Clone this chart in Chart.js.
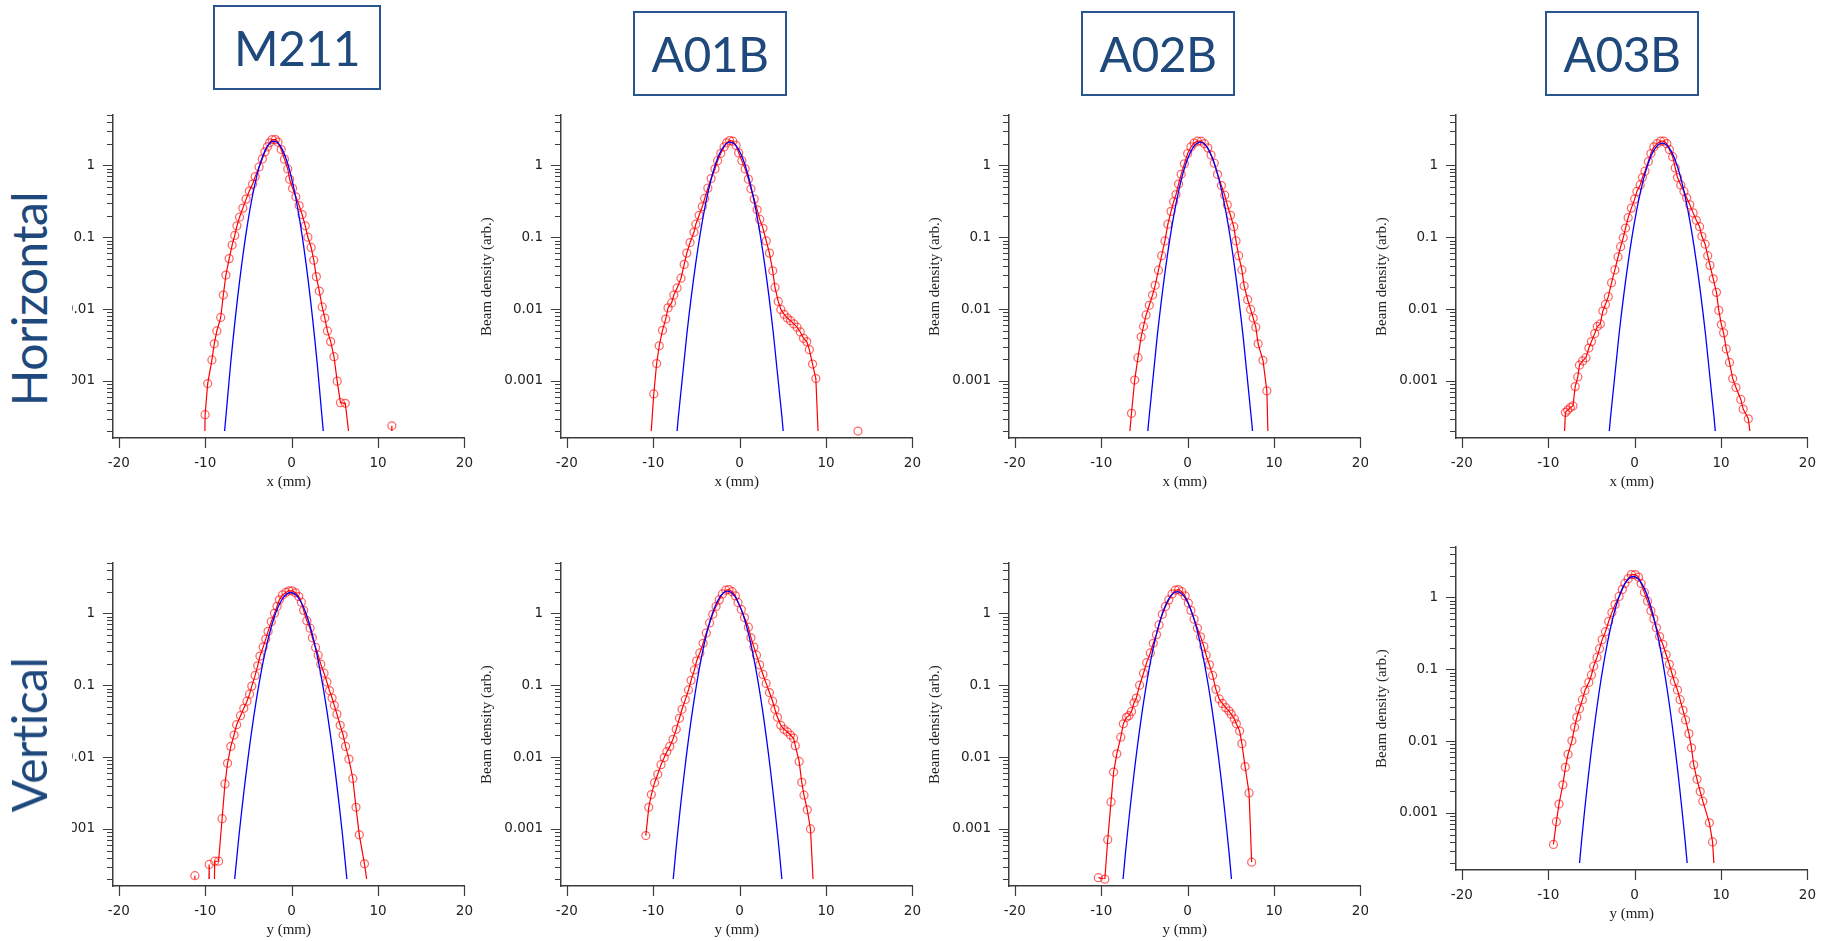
<!DOCTYPE html>
<html>
<head>
<meta charset="utf-8">
<script src="https://cdn.jsdelivr.net/npm/chart.js@4.4.1/dist/chart.umd.min.js"></script>
<style>
html,body{margin:0;padding:0;background:#fff;width:1835px;height:941px;overflow:hidden;}
#stage{position:relative;width:1835px;height:941px;background:#fff;}
#stage canvas{position:absolute;}
.hdr{position:absolute;box-sizing:border-box;border:2px solid #2b5590;display:flex;align-items:center;justify-content:center;font-family:Lato,"Noto Sans",sans-serif;font-size:48px;color:#1f497d;letter-spacing:-0.5px;z-index:5;line-height:1;}
.rowmask{position:absolute;left:0;width:72px;background:#fff;z-index:4;}
.rowlbl{position:absolute;font-family:Lato,"Noto Sans",sans-serif;font-size:48px;color:#1f497d;white-space:nowrap;line-height:1;letter-spacing:-0.5px;transform:translate(-50%,-50%) rotate(-90deg);z-index:5;}
</style>
</head>
<body>
<div id="stage"></div>
<script>
// ---------------- categories / labels ----------------
const columns = ['M211', 'A01B', 'A02B', 'A03B'];
const rows = ['Horizontal', 'Vertical'];
const xTitles = ['x (mm)', 'y (mm)'];
const yTitle = 'Beam density (arb.)';
const xTicks = [-20, -10, 0, 10, 20];
const yMajor = [1, 0.1, 0.01, 0.001];
const yMajorLabels = ['1', '0.1', '0.01', '0.001'];
const xRange = [-20.68, 20];
const yRange = [1.61e-4, 5];
const yFloor = 2e-4;

// ---------------- measured profiles [position (mm), density] ----------------
// values far below the axis (1e-7 etc.) are readings that fall off the plotted range
const hM211Data = [[-10.35,1e-7],[-10.02,3.4e-4],[-9.72,9.2e-4],[-9.23,1.96e-3],[-8.96,3.29e-3],[-8.66,4.96e-3],[-8.21,7.65e-3],[-7.91,0.0157],[-7.61,0.0298],[-7.23,0.0504],[-6.89,0.0777],[-6.59,0.106],[-6.33,0.144],[-6.03,0.190],[-5.65,0.254],[-5.27,0.339],[-4.90,0.439],[-4.52,0.550],[-4.22,0.697],[-3.77,0.95],[-3.39,1.23],[-3.09,1.54],[-2.82,1.80],[-2.56,2.06],[-2.26,2.28],[-1.88,2.28],[-1.58,2.10],[-1.21,1.66],[-0.83,1.22],[-0.45,0.89],[-0.23,0.64],[0.11,0.48],[0.49,0.365],[0.87,0.276],[1.21,0.207],[1.58,0.144],[1.88,0.100],[2.26,0.072],[2.56,0.048],[2.86,0.0283],[3.20,0.0178],[3.54,0.0107],[3.84,7.5e-3],[4.14,4.97e-3],[4.52,3.53e-3],[4.90,2.18e-3],[5.27,9.95e-4],[5.65,4.99e-4],[6.21,4.89e-4],[6.90,9.5e-5],[11.30,1e-7],[11.60,2.38e-4],[11.90,1e-7]];
const hA01BData = [[-10.30,1.55e-4],[-9.94,6.6e-4],[-9.61,1.75e-3],[-9.31,3.09e-3],[-8.93,5.07e-3],[-8.56,7.27e-3],[-8.29,0.0104],[-7.88,0.0122],[-7.62,0.0157],[-7.24,0.0197],[-6.79,0.0269],[-6.42,0.0419],[-6.12,0.0601],[-5.74,0.0844],[-5.29,0.117],[-5.07,0.152],[-4.69,0.202],[-4.32,0.267],[-4.05,0.346],[-3.68,0.481],[-3.30,0.656],[-2.85,0.893],[-2.55,1.16],[-2.18,1.47],[-1.80,1.80],[-1.50,2.06],[-1.16,2.21],[-0.79,2.17],[-0.41,1.89],[-0.11,1.49],[0.26,1.16],[0.64,0.893],[1.01,0.643],[1.31,0.471],[1.69,0.339],[2.03,0.241],[2.33,0.177],[2.70,0.133],[3.08,0.0889],[3.45,0.0601],[3.83,0.0341],[4.09,0.0200],[4.47,0.0128],[4.77,9.9e-3],[5.14,8.48e-3],[5.52,7.50e-3],[5.89,6.90e-3],[6.27,6.22e-3],[6.64,5.61e-3],[7.02,4.81e-3],[7.39,3.92e-3],[7.77,3.53e-3],[8.07,2.73e-3],[8.44,1.72e-3],[8.82,1.08e-3],[9.20,8.9e-5],[13.40,1e-7],[13.70,2.01e-4],[14.00,1e-7]];
const hA02BData = [[-6.85,1.2e-4],[-6.50,3.55e-4],[-6.13,1.03e-3],[-5.75,2.11e-3],[-5.38,4.12e-3],[-5.11,5.73e-3],[-4.81,8.30e-3],[-4.44,0.0113],[-4.06,0.0157],[-3.76,0.0214],[-3.38,0.0348],[-3.01,0.0553],[-2.63,0.0889],[-2.29,0.152],[-1.92,0.229],[-1.62,0.312],[-1.35,0.392],[-1.05,0.550],[-0.75,0.750],[-0.38,1.05],[0.00,1.46],[0.38,1.80],[0.75,2.04],[1.13,2.17],[1.58,2.17],[1.95,2.00],[2.33,1.75],[2.71,1.39],[3.08,1.07],[3.46,0.750],[3.91,0.523],[4.29,0.384],[4.59,0.282],[4.96,0.202],[5.34,0.140],[5.60,0.0889],[5.90,0.0553],[6.28,0.0351],[6.54,0.0210],[6.95,0.0135],[7.29,9.9e-3],[7.59,7.50e-3],[7.89,5.61e-3],[8.16,3.29e-3],[8.72,1.94e-3],[9.17,7.3e-4],[9.50,2e-5]];
const hA03BData = [[-8.30,7e-5],[-8.01,3.66e-4],[-7.74,3.94e-4],[-7.44,4.27e-4],[-7.14,4.50e-4],[-6.88,8.35e-4],[-6.58,1.14e-3],[-6.39,1.66e-3],[-6.02,1.90e-3],[-5.64,2.11e-3],[-5.30,2.87e-3],[-5.00,3.53e-3],[-4.62,4.57e-3],[-4.32,5.73e-3],[-3.98,6.22e-3],[-3.68,9.4e-3],[-3.38,0.0116],[-3.05,0.0149],[-2.67,0.0233],[-2.29,0.0351],[-1.92,0.0531],[-1.62,0.0738],[-1.32,0.0984],[-1.05,0.134],[-0.75,0.187],[-0.38,0.254],[0.00,0.339],[0.26,0.434],[0.64,0.533],[0.90,0.676],[1.20,0.830],[1.58,1.13],[1.88,1.46],[2.22,1.80],[2.59,2.00],[3.01,2.17],[3.38,2.17],[3.72,2.00],[4.02,1.66],[4.40,1.32],[4.70,0.921],[4.96,0.676],[5.34,0.533],[5.71,0.434],[6.02,0.353],[6.39,0.282],[6.77,0.218],[7.14,0.172],[7.52,0.140],[7.78,0.103],[8.16,0.0801],[8.46,0.0553],[8.72,0.0406],[9.10,0.0264],[9.47,0.0171],[9.74,9.6e-3],[10.04,6.10e-3],[10.30,4.67e-3],[10.60,2.79e-3],[10.98,1.81e-3],[11.35,1.08e-3],[11.73,8.1e-4],[12.29,5.53e-4],[12.56,4.06e-4],[13.16,2.98e-4],[13.50,1.4e-4]];
const vM211Data = [[-11.50,1e-7],[-11.20,2.24e-4],[-10.90,1e-7],[-9.85,1e-7],[-9.55,3.21e-4],[-9.25,1e-7],[-8.91,3.56e-4],[-8.46,3.56e-4],[-8.05,1.39e-3],[-7.72,4.23e-3],[-7.42,8.19e-3],[-7.04,0.0141],[-6.67,0.0203],[-6.37,0.0282],[-5.92,0.0377],[-5.54,0.0477],[-5.17,0.0599],[-4.87,0.0751],[-4.61,0.0972],[-4.23,0.137],[-3.93,0.186],[-3.67,0.254],[-3.30,0.339],[-3.00,0.438],[-2.73,0.561],[-2.36,0.765],[-1.99,1.00],[-1.69,1.25],[-1.42,1.54],[-1.05,1.80],[-0.67,1.95],[-0.30,2.06],[0.07,2.06],[0.45,1.93],[0.82,1.71],[1.12,1.43],[1.39,1.10],[1.76,0.789],[2.13,0.622],[2.40,0.457],[2.77,0.335],[3.07,0.262],[3.37,0.196],[3.75,0.147],[4.08,0.111],[4.38,0.0842],[4.68,0.0664],[4.94,0.0524],[5.24,0.0396],[5.62,0.0277],[5.96,0.0203],[6.25,0.0141],[6.63,9.4e-3],[7.08,5.04e-3],[7.45,2.0e-3],[7.83,8.3e-4],[8.43,3.28e-4],[8.80,1.6e-4]];
const vA01BData = [[-10.86,8.1e-4],[-10.52,2.0e-3],[-10.22,3.01e-3],[-9.85,4.41e-3],[-9.48,5.77e-3],[-9.10,7.85e-3],[-8.73,9.86e-3],[-8.43,0.0119],[-8.09,0.0141],[-7.72,0.0177],[-7.34,0.0244],[-6.97,0.0347],[-6.67,0.0463],[-6.29,0.0631],[-5.92,0.0859],[-5.62,0.117],[-5.24,0.163],[-4.98,0.217],[-4.61,0.281],[-4.23,0.383],[-3.86,0.533],[-3.48,0.734],[-3.11,0.97],[-2.73,1.25],[-2.36,1.54],[-1.99,1.86],[-1.61,2.10],[-1.24,2.14],[-0.86,2.00],[-0.49,1.75],[-0.19,1.42],[0.19,1.13],[0.56,0.875],[1.01,0.642],[1.31,0.457],[1.65,0.339],[1.95,0.262],[2.32,0.192],[2.70,0.141],[3.07,0.106],[3.45,0.0791],[3.82,0.0599],[4.08,0.0463],[4.38,0.0358],[4.76,0.0277],[5.13,0.0244],[5.51,0.0225],[5.88,0.0203],[6.25,0.0183],[6.44,0.0144],[6.89,8.7e-3],[7.19,4.46e-3],[7.45,2.95e-3],[7.83,1.85e-3],[8.20,1.0e-3],[8.55,1.5e-4]];
const vA02BData = [[-10.34,2.10e-4],[-9.59,2.0e-4],[-9.25,7.1e-4],[-8.87,2.38e-3],[-8.57,6.19e-3],[-8.20,0.0111],[-7.74,0.0189],[-7.44,0.0291],[-7.07,0.0358],[-6.80,0.0377],[-6.50,0.0431],[-6.20,0.0569],[-5.94,0.0664],[-5.56,0.100],[-5.11,0.147],[-4.74,0.206],[-4.32,0.281],[-3.98,0.383],[-3.61,0.506],[-3.31,0.690],[-2.93,0.97],[-2.56,1.25],[-2.18,1.54],[-1.80,1.86],[-1.43,2.10],[-1.05,2.14],[-0.68,2.00],[-0.30,1.75],[0.08,1.39],[0.38,1.10],[0.75,0.830],[1.13,0.622],[1.50,0.471],[1.88,0.346],[2.14,0.262],[2.52,0.192],[2.89,0.137],[3.27,0.0877],[3.65,0.0644],[4.02,0.0557],[4.40,0.0488],[4.77,0.0440],[5.04,0.0396],[5.41,0.0340],[5.64,0.0291],[6.02,0.0230],[6.28,0.0154],[6.65,7.38e-3],[7.11,3.17e-3],[7.41,3.45e-4]];
const vA03BData = [[-9.40,3.65e-4],[-9.06,7.57e-4],[-8.76,1.33e-3],[-8.31,2.47e-3],[-8.01,4.31e-3],[-7.71,6.56e-3],[-7.26,0.0101],[-6.95,0.0156],[-6.69,0.0214],[-6.39,0.0282],[-6.05,0.0377],[-5.75,0.0507],[-5.30,0.0656],[-5.00,0.0832],[-4.74,0.110],[-4.36,0.146],[-4.06,0.193],[-3.76,0.258],[-3.38,0.333],[-3.01,0.462],[-2.63,0.617],[-2.26,0.798],[-1.80,1.03],[-1.43,1.29],[-1.13,1.56],[-0.75,1.82],[-0.38,2.07],[0.08,2.07],[0.45,1.91],[0.75,1.56],[1.13,1.17],[1.50,0.884],[1.88,0.649],[2.22,0.502],[2.52,0.377],[2.89,0.285],[3.27,0.221],[3.65,0.159],[4.02,0.117],[4.29,0.0893],[4.59,0.0676],[4.96,0.0513],[5.26,0.0377],[5.60,0.0268],[5.90,0.0197],[6.28,0.0127],[6.58,8.06e-3],[6.84,4.67e-3],[7.22,2.94e-3],[7.59,1.99e-3],[7.89,1.46e-3],[8.65,7.3e-4],[9.02,3.96e-4],[9.35,9e-5]];

// ---------------- Gaussian fit curves ----------------
const hM211Fit = [[-8.05,8.0e-5],[-7.05,1.81e-3],[-6.05,0.0232],[-5.05,0.169],[-4.05,0.698],[-3.05,1.63],[-2.05,2.17],[-1.05,1.63],[-0.05,0.698],[0.95,0.169],[1.95,0.0232],[2.95,1.81e-3],[3.95,8.0e-5]];
const hA01BFit = [[-8.1,1.3e-5],[-7.1,3.13e-4],[-6.1,4.62e-3],[-5.1,0.0418],[-4.1,0.232],[-3.1,0.789],[-2.1,1.64],[-1.1,2.10],[-0.1,1.64],[0.9,0.789],[1.9,0.232],[2.9,0.0418],[3.9,4.62e-3],[4.9,3.13e-4],[5.9,1.3e-5]];
const hA02BFit = [[-5.55,9.2e-6],[-4.55,2.44e-4],[-3.55,3.88e-3],[-2.55,0.0374],[-1.55,0.218],[-0.55,0.767],[0.45,1.63],[1.45,2.10],[2.45,1.63],[3.45,0.767],[4.45,0.218],[5.45,0.0374],[6.45,3.88e-3],[7.45,2.44e-4],[8.45,9.2e-6]];
const hA03BFit = [[-3.8,1.27e-5],[-2.8,3.06e-4],[-1.8,4.51e-3],[-0.8,0.0407],[0.2,0.225],[1.2,0.766],[2.2,1.60],[3.2,2.04],[4.2,1.60],[5.2,0.766],[6.2,0.225],[7.2,0.0407],[8.2,4.51e-3],[9.2,3.06e-4],[10.2,1.27e-5]];
const vM211Fit = [[-7.1,4.8e-5],[-6.1,8.0e-4],[-5.1,8.67e-3],[-4.1,0.0610],[-3.1,0.278],[-2.1,0.822],[-1.1,1.57],[-0.1,1.95],[0.9,1.57],[1.9,0.822],[2.9,0.278],[3.9,0.0610],[4.9,8.67e-3],[5.9,8.0e-4],[6.9,4.8e-5]];
const vA01BFit = [[-8.4,2.3e-5],[-7.4,4.75e-4],[-6.4,6.11e-3],[-5.4,0.0495],[-4.4,0.252],[-3.4,0.803],[-2.4,1.61],[-1.4,2.04],[-0.4,1.61],[0.6,0.803],[1.6,0.252],[2.6,0.0495],[3.6,6.11e-3],[4.6,4.75e-4],[5.6,2.3e-5]];
const vA02BFit = [[-8.2,2.2e-5],[-7.2,4.61e-4],[-6.2,5.96e-3],[-5.2,0.0483],[-4.2,0.246],[-3.2,0.787],[-2.2,1.58],[-1.2,2.00],[-0.2,1.58],[0.8,0.787],[1.8,0.246],[2.8,0.0483],[3.8,5.96e-3],[4.8,4.61e-4],[5.8,2.2e-5]];
const vA03BFit = [[-7.15,1.9e-5],[-6.15,4.02e-4],[-5.15,5.37e-3],[-4.15,0.0449],[-3.15,0.233],[-2.15,0.759],[-1.15,1.54],[-0.15,1.95],[0.85,1.54],[1.85,0.759],[2.85,0.233],[3.85,0.0449],[4.85,5.37e-3],[5.85,4.02e-4],[6.85,1.9e-5]];

const panelData = [[hM211Data, hA01BData, hA02BData, hA03BData], [vM211Data, vA01BData, vA02BData, vA03BData]];
const panelFit = [[hM211Fit, hA01BFit, hA02BFit, hA03BFit], [vM211Fit, vA01BFit, vA02BFit, vA03BFit]];

// ---------------- layout (styles only) ----------------
const panelLeft = [113, 561, 1009, 1456];
const panelTop = [[103, 103, 103, 103], [551, 551, 551, 535]];
const AREA_W = 360, AREA_H = 335, AXIS_W = 88, AXIS_H = 55, PAD_T = 14, PAD_R = 17;
const CW = AXIS_W + AREA_W + PAD_R, CH = PAD_T + AREA_H + AXIS_H;
const CLIP_IN = 7;
const AXIS_COLOR = '#3c3c3c';
const headerBoxes = [[213, 5, 168, 85], [633, 11, 154, 85], [1081, 11, 154, 85], [1545, 11, 154, 85]];
const rowLabelPos = [[29, 298.5], [29, 735]];
const rowMask = [[90, 356], [537, 356]];

const stage = document.getElementById('stage');

const bgPlugin = {
  id: 'whiteBg',
  beforeDraw(chart) {
    const {ctx, width, height} = chart;
    ctx.save(); ctx.fillStyle = '#fff'; ctx.fillRect(0, 0, width, height); ctx.restore();
  }
};

const tickPlugin = {
  id: 'igorTicks',
  afterDraw(chart) {
    const {ctx, chartArea: a, scales: {x, y}} = chart;
    ctx.save();
    ctx.strokeStyle = AXIS_COLOR; ctx.lineWidth = 1.2;
    ctx.beginPath();
    for (let e = -4; e <= 0; e++) {
      for (let m = 1; m <= 9; m++) {
        const v = m * Math.pow(10, e);
        if (v < yFloor * 0.999 || v > yRange[1] * 1.001) continue;
        const py = Math.round(y.getPixelForValue(v)) + 0.5;
        const len = m === 1 ? 10 : 6;
        ctx.moveTo(a.left - len, py); ctx.lineTo(a.left, py);
      }
    }
    xTicks.forEach(v => {
      const px = Math.round(x.getPixelForValue(v)) + 0.5;
      ctx.moveTo(px, a.bottom); ctx.lineTo(px, a.bottom + 10);
    });
    ctx.stroke();
    ctx.restore();
  }
};

function makePanel(r, c) {
  const cv = document.createElement('canvas');
  cv.width = CW; cv.height = CH;
  cv.style.width = CW + 'px'; cv.style.height = CH + 'px';
  cv.style.left = (panelLeft[c] - AXIS_W) + 'px';
  cv.style.top = (panelTop[r][c] - PAD_T) + 'px';
  cv.style.zIndex = String(1 + c);
  stage.appendChild(cv);
  const pts = panelData[r][c].map(([x, y]) => ({x, y}));
  const fitPts = panelFit[r][c].map(([x, y]) => ({x, y}));
  const clipIn = {left: 0, top: 0, right: 0, bottom: -CLIP_IN};
  new Chart(cv, {
    type: 'scatter',
    data: {
      datasets: [
        {label: 'Gaussian fit', data: fitPts, showLine: true, borderColor: '#0000ff', borderWidth: 1.3,
         pointRadius: 0, cubicInterpolationMode: 'monotone', clip: clipIn},
        {label: columns[c] + ' ' + rows[r], data: pts, showLine: true, borderColor: '#ff0000', borderWidth: 1.2,
         pointRadius: 0, clip: clipIn},
        {label: 'points', data: pts, showLine: false,
         pointRadius: ctx => (ctx.raw && ctx.raw.y >= yFloor * 0.95) ? 4 : 0,
         pointHoverRadius: 0, pointStyle: 'circle',
         pointBorderColor: 'rgba(255,0,0,0.6)', pointBackgroundColor: 'rgba(255,255,255,0)', pointBorderWidth: 1.25,
         clip: {left: 0, top: 0, right: 0, bottom: 0}}
      ]
    },
    options: {
      responsive: false, animation: false, devicePixelRatio: 1, events: [],
      layout: {padding: {left: 0, top: PAD_T, right: PAD_R, bottom: 0}},
      plugins: {legend: {display: false}, tooltip: {enabled: false}},
      scales: {
        x: {
          type: 'linear', min: xRange[0], max: xRange[1], bounds: 'data',
          afterBuildTicks: s => { s.ticks = xTicks.map(v => ({value: v})); },
          afterFit: s => { s.height = AXIS_H; },
          grid: {display: false, drawTicks: false},
          border: {display: true, color: AXIS_COLOR, width: 1.5},
          ticks: {padding: 17, color: '#222', font: {family: 'DejaVu Sans', size: 13.5}, maxRotation: 0, autoSkip: false,
                  callback: (v, i) => String(xTicks[i])},
          title: {display: true, text: xTitles[r], color: '#222', font: {family: 'Liberation Serif', size: 15}, padding: {top: 0, bottom: 2}}
        },
        y: {
          type: 'logarithmic', min: yRange[0], max: yRange[1], bounds: 'data',
          afterBuildTicks: s => { s.ticks = yMajor.map(v => ({value: v})); },
          afterFit: s => { s.width = AXIS_W; },
          grid: {display: false, drawTicks: false},
          border: {display: true, color: AXIS_COLOR, width: 1.5},
          ticks: {padding: 18, color: '#222', font: {family: 'DejaVu Sans', size: 13.5}, autoSkip: false,
                  callback: (v, i) => yMajorLabels[i]},
          title: {display: true, text: yTitle, color: '#222', font: {family: 'Liberation Serif', size: 15}, padding: {top: 5, bottom: 0}}
        }
      }
    },
    plugins: [bgPlugin, tickPlugin]
  });
}

for (let r = 0; r < rows.length; r++) {
  for (let c = 0; c < columns.length; c++) makePanel(r, c);
}

// column headers
columns.forEach((name, c) => {
  const [l, t, w, h] = headerBoxes[c];
  const d = document.createElement('div');
  d.className = 'hdr';
  d.style.left = l + 'px'; d.style.top = t + 'px'; d.style.width = w + 'px'; d.style.height = h + 'px';
  d.textContent = name;
  stage.appendChild(d);
});

// row labels
rows.forEach((name, r) => {
  const m = document.createElement('div');
  m.className = 'rowmask';
  m.style.top = rowMask[r][0] + 'px'; m.style.height = rowMask[r][1] + 'px';
  stage.appendChild(m);
  const d = document.createElement('div');
  d.className = 'rowlbl';
  d.style.left = rowLabelPos[r][0] + 'px'; d.style.top = rowLabelPos[r][1] + 'px';
  d.textContent = name;
  stage.appendChild(d);
});
</script>
</body>
</html>
